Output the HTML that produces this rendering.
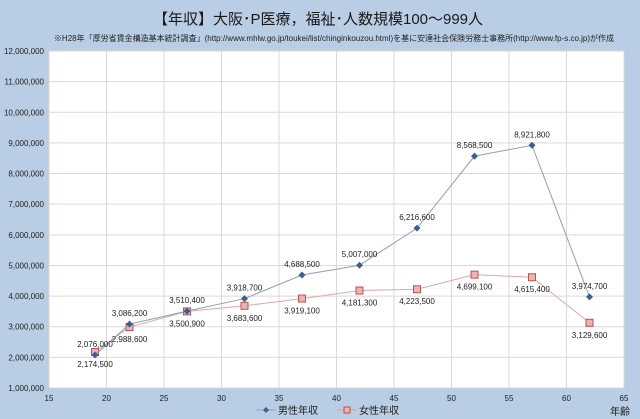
<!DOCTYPE html>
<html><head><meta charset="utf-8"><style>
html,body{margin:0;padding:0;background:#b9cde4;}
svg{display:block;font-family:"Liberation Sans","Noto Sans CJK JP",sans-serif;}
</style></head><body>
<svg id="c" width="640" height="419">
<rect x="0" y="0" width="640" height="419" fill="#b9cde4"/>
<text x="318" y="24" text-anchor="middle" font-size="15" fill="#1a1a1a">【年収】大阪･P医療，福祉･人数規模100～999人</text>
<text x="334" y="41" text-anchor="middle" font-size="8" fill="#222">※H28年「厚労省賃金構造基本統計調査」(http://www.mhlw.go.jp/toukei/list/chinginkouzou.html)を基に安達社会保険労務士事務所(http://www.fp-s.co.jp)が作成</text>
<rect x="49" y="51" width="575" height="337" fill="#fff"/>
<g id="grid"></g><g id="axes"></g><g id="series"></g>
<g>
<line x1="256" y1="410" x2="276" y2="410" stroke="#8ea0bd"/>
<path d="M266 407 L269 410 L266 413 L263 410Z" fill="#3d5f95"/>
<text x="278" y="414" font-size="10" fill="#222">男性年収</text>
<line x1="337" y1="410" x2="357" y2="410" stroke="#e0a0a0"/>
<rect x="344" y="407" width="6" height="6" fill="#e8b4b4" stroke="#c0504d"/>
<text x="359" y="414" font-size="10" fill="#222">女性年収</text>
</g>
<text x="610" y="415" font-size="10" fill="#222">年齢</text>
</svg>
<script>
const ages=[19,22,27,32,37,42,47,52,57,62];
const male=[2076000,3086200,3510400,3918700,4688500,5007000,6216600,8568500,8921800,3974700];
const female=[2174500,2988600,3500900,3683600,3919100,4181300,4223500,4699100,4615400,3129600];
const xTicks=[15,20,25,30,35,40,45,50,55,60,65];
const yTicks=[1000000,2000000,3000000,4000000,5000000,6000000,7000000,8000000,9000000,10000000,11000000,12000000];
const NS="http://www.w3.org/2000/svg";
const X0=49,X1=624,Y0=388,Y1=51;
function xs(v){return X0+(v-15)/50*(X1-X0);}
function ys(v){return Y0-(v-1000000)/11000000*(Y0-Y1);}
function fmt(v){return v.toLocaleString('en-US');}
function mk(tag,attrs,parent){const e=document.createElementNS(NS,tag);for(const k in attrs)e.setAttribute(k,attrs[k]);parent.appendChild(e);return e;}
const grid=document.getElementById('grid'),axes=document.getElementById('axes'),ser=document.getElementById('series');
yTicks.forEach(t=>{
 const l=mk('line',{x1:X0,x2:X1,y1:ys(t),y2:ys(t),stroke:'#d9d9d9'},grid);
 
 
 const tx=mk('text',{x:44,y:ys(t)+3,'text-anchor':'end','font-size':8,fill:'#222'},axes);
 tx.textContent=fmt(t);
 
 
});
xTicks.forEach(t=>{
 const l=mk('line',{x1:xs(t),x2:xs(t),y1:Y1,y2:Y0,stroke:'#d9d9d9'},grid);
 
 
 const tx=mk('text',{x:xs(t),y:Y0+13,'text-anchor':'middle','font-size':8,fill:'#222'},axes);
 tx.textContent=t;
 
 
});
function series(vals,color,name,marker,labelDy){
 const pts=ages.map((a,i)=>xs(a)+','+ys(vals[i])).join(' ');
 const pl=mk('polyline',{points:pts,fill:'none',stroke:color,'stroke-width':1},ser);
 
 
 ages.forEach((a,i)=>{
  const x=xs(a),y=ys(vals[i]);let m;
  if(marker==='d'){m=mk('path',{d:`M${x} ${y-3.5}L${x+3.5} ${y}L${x} ${y+3.5}L${x-3.5} ${y}Z`,fill:'#3d5f95'},ser);}
  else{m=mk('rect',{x:x-3.5,y:y-3.5,width:7,height:7,fill:'#e8b4b4',stroke:'#c0504d'},ser);}
  
  
  const t=mk('text',{x:x,y:y+labelDy,'text-anchor':'middle','font-size':8,fill:'#222'},ser);
  t.textContent=fmt(vals[i]);
  
  
 });
}
series(female,'#e3a6a6','female','s',15);
series(male,'#8ea0bd','male','d',-8);
</script>
</body></html>
